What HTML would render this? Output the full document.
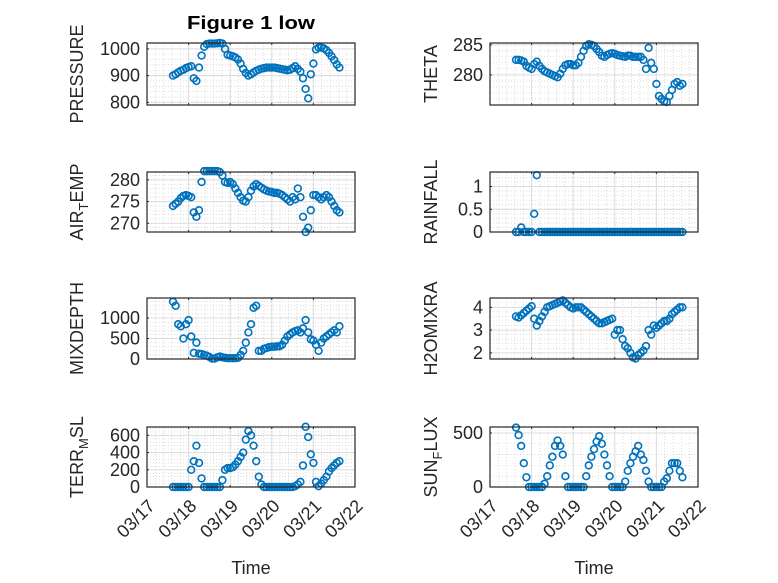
<!DOCTYPE html>
<html><head><meta charset="utf-8"><style>
html,body{margin:0;padding:0;background:#fff}
svg{display:block;font-family:"Liberation Sans","DejaVu Sans",sans-serif}
</style></head><body>
<svg id="fig" width="778" height="583" viewBox="0 0 778 583" xmlns="http://www.w3.org/2000/svg">
<rect width="778" height="583" fill="#fff"/>
<text x="251" y="29" text-anchor="middle" font-size="18" font-weight="bold" fill="#000" textLength="128" lengthAdjust="spacingAndGlyphs">Figure 1 low</text>
</svg>
<script>
const hours = [15,16.5,18,19.5,21,22.5,24,25.5,27,28.5,30,31.5,33,34.5,36,37.5,39,40.5,42,43.5,45,46.5,48,49.5,51,52.5,54,55.5,57,58.5,60,61.5,63,64.5,66,67.5,69,70.5,72,73.5,75,76.5,78,79.5,81,82.5,84,85.5,87,88.5,90,91.5,93,94.5,96,97.5,99,100.5,102,103.5,105,106.5,108,109.5,111];
const xTickLabels = ["03/17","03/18","03/19","03/20","03/21","03/22"];
const pressure = [900,905,912,918,922,928,932,935,890,880,930,975,1008,1018,1020,1020,1020,1021,1022,1020,1000,978,975,972,968,960,945,925,910,900,905,912,918,922,926,928,930,930,930,930,928,926,924,922,920,922,928,935,925,915,890,850,815,905,945,998,1005,1005,1002,995,985,972,958,942,930];
const airTemp = [274,274.5,275,275.8,276.3,276.5,276.3,276,272.5,271.5,273,279.5,282,282,282,282,282,282,281.8,281,279.5,279.3,279.5,279,278,277,276,275.2,275,276,277.5,278.5,279,278.6,278.2,277.8,277.5,277.3,277.2,277,277,276.8,276.5,276,275.5,275,276,275.5,278,276,271.5,268,269,273,276.5,276.5,276,275.5,276,276.5,276,275,274,273,272.5];
const theta = [282.5,282.5,282.4,282.2,281.5,281.2,281,281.8,282.2,281.5,281,280.6,280.4,280.2,280,279.8,279.6,280.2,281,281.6,281.8,281.8,281.6,281.6,282,283,284,284.8,285.1,285,284.8,284.3,283.8,283.2,283,283.3,283.5,283.6,283.5,283.3,283.2,283.1,283,283.2,283.2,283,283,283,283,282.5,281,284.5,282,281,278.5,276.5,276,275.6,275.5,276.5,277.5,278.5,278.8,278.2,278.5];
const rainfall = [0,0,0.1,0,0,0,0,0.4,1.25,0,0,0,0,0,0,0,0,0,0,0,0,0,0,0,0,0,0,0,0,0,0,0,0,0,0,0,0,0,0,0,0,0,0,0,0,0,0,0,0,0,0,0,0,0,0,0,0,0,0,0,0,0,0,0,0];
const mixDepth = [1400,1300,850,800,500,850,950,550,150,400,130,120,100,80,50,10,10,40,60,40,30,20,20,20,20,30,100,200,400,650,850,1250,1300,200,200,250,270,290,300,300,310,310,350,450,550,600,650,680,700,650,750,950,650,480,450,350,200,400,500,550,600,650,700,650,800];
const h2oMix = [3.6,3.55,3.65,3.75,3.85,3.95,4.05,3.5,3.2,3.4,3.6,3.8,4.0,4.05,4.1,4.15,4.2,4.25,4.3,4.2,4.1,4.0,3.95,4.0,4.0,4.0,3.9,3.8,3.7,3.6,3.5,3.4,3.3,3.3,3.35,3.4,3.45,3.5,2.8,3.0,3.0,2.6,2.3,2.2,2.0,1.8,1.75,1.9,2.0,2.1,2.3,3.0,2.8,3.2,3.1,3.2,3.3,3.4,3.4,3.5,3.7,3.8,3.9,4.0,4.0];
const terrMsl = [0,0,0,0,0,0,0,200,300,480,280,100,0,0,0,0,0,0,0,80,200,220,220,230,260,300,350,400,550,650,600,480,300,120,30,0,0,0,0,0,0,0,0,0,0,0,0,10,30,60,250,700,580,380,280,60,10,40,80,120,180,220,250,280,300];
const sunFlux = [550,480,380,220,90,0,0,0,0,0,0,30,100,200,280,380,430,380,300,100,0,0,0,0,0,0,0,100,200,280,350,420,470,400,300,200,100,0,0,0,0,0,50,150,220,280,330,380,300,250,150,50,0,0,0,0,0,50,80,150,220,220,220,150,90];

const NS = "http://www.w3.org/2000/svg";
const svg = document.getElementById('fig');
function mk(tag, attrs, parent){const e=document.createElementNS(NS,tag);for(const k in attrs)e.setAttribute(k,attrs[k]);(parent||svg).appendChild(e);return e;}

const panels = [
 {key:'pressure',label:'PRESSURE',vals:pressure,ymin:790,ymax:1022,ticks:[800,900,1000],tl:['800','900','1000'],x0:147,x1:355,y0:43,y1:105,lx:83,len:95,showX:false},
 {key:'theta',label:'THETA',vals:theta,ymin:275,ymax:285.3,ticks:[280,285],tl:['280','285'],x0:490,x1:698,y0:43,y1:105,lx:437,len:60,showX:false},
 {key:'air-temp',label:'AIR_TEMP',vals:airTemp,ymin:268,ymax:281.8,ticks:[270,275,280],tl:['270','275','280'],x0:147,x1:355,y0:172,y1:232,lx:83,len:0,showX:false},
 {key:'rainfall',label:'RAINFALL',vals:rainfall,ymin:0,ymax:1.32,ticks:[0,0.5,1],tl:['0','0.5','1'],x0:490,x1:698,y0:172,y1:232,lx:437,len:0,showX:false},
 {key:'mixdepth',label:'MIXDEPTH',vals:mixDepth,ymin:0,ymax:1490,ticks:[0,500,1000],tl:['0','500','1000'],x0:147,x1:355,y0:298,y1:359,lx:83,len:0,showX:false},
 {key:'h2omixra',label:'H2OMIXRA',vals:h2oMix,ymin:1.73,ymax:4.41,ticks:[2,3,4],tl:['2','3','4'],x0:490,x1:698,y0:298,y1:359,lx:437,len:0,showX:false},
 {key:'terr-msl',label:'TERR_MSL',vals:terrMsl,ymin:0,ymax:697,ticks:[0,200,400,600],tl:['0','200','400','600'],x0:147,x1:355,y0:427,y1:487,lx:83,len:0,showX:true},
 {key:'sun-flux',label:'SUN_FLUX',vals:sunFlux,ymin:0,ymax:555,ticks:[0,500],tl:['0','500'],x0:490,x1:698,y0:427,y1:487,lx:437,len:0,showX:true}
];

panels.forEach(p=>{
  const g = mk('g',{});
  
  
  const xs = h => p.x0 + (h/24)/5*(p.x1-p.x0);
  const ys = v => p.y1 - (v-p.ymin)/(p.ymax-p.ymin)*(p.y1-p.y0);
  for(let d=0; d<5; d++) for(let k=1;k<5;k++){
    const x = xs((d+k/5)*24);
    mk('line',{x1:x,x2:x,y1:p.y0,y2:p.y1,stroke:'#c8c8c8','stroke-width':0.6,'stroke-dasharray':'1,2'},g);
  }
  const step = p.ticks.length>1 ? p.ticks[1]-p.ticks[0] : 1;
  for(let v=p.ticks[0]-step; v<=p.ymax; v+=step/5){
    if(v<p.ymin) continue;
    const y=ys(v);
    mk('line',{x1:p.x0,x2:p.x1,y1:y,y2:y,stroke:'#c8c8c8','stroke-width':0.6,'stroke-dasharray':'1,2'},g);
  }
  for(let d=1; d<5; d++){const x=xs(d*24); mk('line',{x1:x,x2:x,y1:p.y0,y2:p.y1,stroke:'#dcdcdc','stroke-width':1},g);}
  p.ticks.forEach((v,i)=>{
    const y=ys(v);
    mk('line',{x1:p.x0,x2:p.x1,y1:y,y2:y,stroke:'#dcdcdc','stroke-width':1},g);
    mk('line',{x1:p.x0,x2:p.x0+2,y1:y,y2:y,stroke:'#262626','stroke-width':1},g);
    const t = mk('text',{x:p.x0-7,y:y+6,'text-anchor':'end','font-size':18,fill:'#262626'},g);
    t.textContent = p.tl[i];
    
    
  });
  xTickLabels.forEach((lab,d)=>{
    const x=xs(d*24);
    mk('line',{x1:x,x2:x,y1:p.y0,y2:p.y0+2,stroke:'#262626','stroke-width':1},g);
    mk('line',{x1:x,x2:x,y1:p.y1,y2:p.y1-2,stroke:'#262626','stroke-width':1},g);
    if(p.showX){
      const ax=x+9, ay=p.y1+20;
      const t = mk('text',{x:ax,y:ay,'text-anchor':'end','font-size':18,fill:'#262626',transform:`rotate(-45 ${ax} ${ay})`},g);
      t.textContent = lab;
      
      
    }
  });
  p.vals.forEach((v,i)=>{
    const c = mk('circle',{cx:xs(hours[i]),cy:ys(v),r:3.4,fill:'none',stroke:'#0072BD','stroke-width':1.6},g);
    
    
  });
  const b = mk('rect',{x:p.x0,y:p.y0,width:p.x1-p.x0,height:p.y1-p.y0,fill:'none',stroke:'#262626','stroke-width':1.2},g);
  
  
  const cy=(p.y0+p.y1)/2;
  const yl = mk('text',{x:p.lx,y:cy,'text-anchor':'middle','font-size':18,fill:'#262626',transform:`rotate(-90 ${p.lx} ${cy})`},g);
  
  
  const parts = p.label.split('_');
  if(parts.length===2){
    const t1=document.createElementNS(NS,'tspan'); t1.textContent=parts[0]; yl.appendChild(t1);
    const t2=document.createElementNS(NS,'tspan'); t2.setAttribute('dy','5'); t2.setAttribute('font-size','13'); t2.textContent=parts[1][0]; yl.appendChild(t2);
    const t3=document.createElementNS(NS,'tspan'); t3.setAttribute('dy','-5'); t3.textContent=parts[1].slice(1); yl.appendChild(t3);
  } else yl.textContent=p.label;
  if(p.showX){
    const xt = mk('text',{x:(p.x0+p.x1)/2,y:574,'text-anchor':'middle','font-size':18,fill:'#262626'},g);
    xt.textContent='Time';
    
    
  }
});
</script>
</body></html>
